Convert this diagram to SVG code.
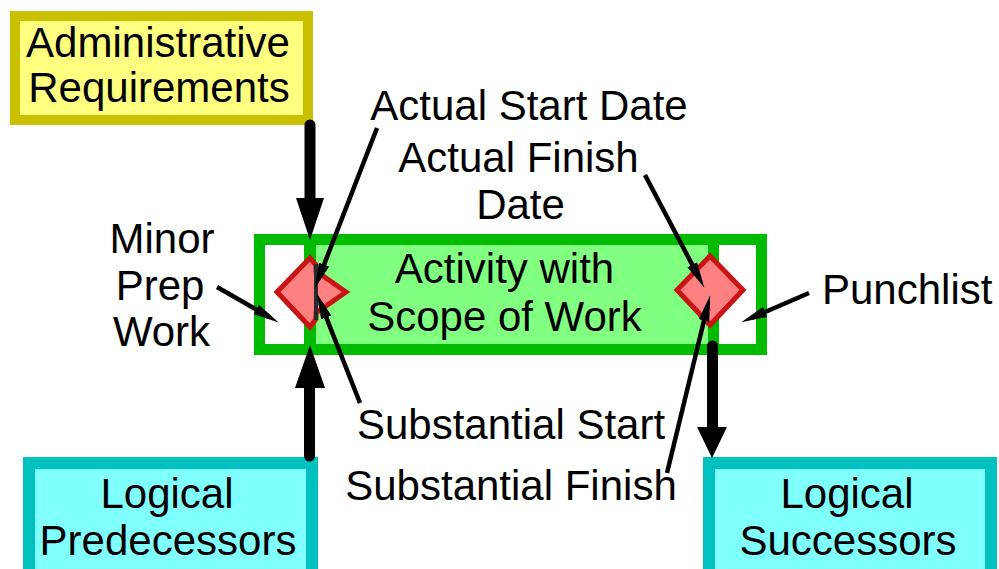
<svg xmlns="http://www.w3.org/2000/svg" width="999" height="569" viewBox="0 0 999 569">
  <style>
    text { font-family: "Liberation Sans", Arial, sans-serif; font-size: 42px; fill: #000; }
    .mid { text-anchor: middle; }
    .admin { fill: #ffff80; stroke: #c8c000; stroke-width: 10; }
    .logic { fill: #80ffff; stroke: #00c0c0; stroke-width: 12; }
    .milestone { fill: #ff8080; stroke: #c81414; stroke-width: 5; stroke-linejoin: miter; }
    .flow { stroke: #000; stroke-width: 11; stroke-linecap: round; fill: none; }
    .head { fill: #000; }
    .pointer { stroke: #000; stroke-width: 4.5; fill: none; marker-end: url(#tip); }
  </style>
  <defs>
    <marker id="tip" markerUnits="userSpaceOnUse" markerWidth="26" markerHeight="12" refX="14" refY="5" orient="auto" viewBox="0 0 24 10">
      <path d="M0,0 L24,5 L0,10 z" fill="#000"/>
    </marker>
  </defs>

  <rect width="999" height="569" fill="#fff"/>

  <!-- Administrative requirements -->
  <g id="admin">
    <rect class="admin" x="15" y="16" width="293" height="104"/>
    <text class="mid" x="158" y="57">Administrative</text>
    <text class="mid" x="159" y="102">Requirements</text>
  </g>

  <!-- Activity bar: prep zone, scope of work, punchlist zone -->
  <g id="activity">
    <rect x="254" y="234" width="513" height="121" fill="#00bb00"/>
    <rect x="265" y="245" width="39" height="99" fill="#fff"/>
    <rect x="316" y="245" width="392" height="99" fill="#80ff80"/>
    <rect x="719" y="245" width="37" height="99" fill="#fff"/>
    <text class="mid" x="504.5" y="283">Activity with</text>
    <text class="mid" x="504.5" y="331">Scope of Work</text>
  </g>

  <!-- Start milestones -->
  <g id="start-milestone">
    <polygon class="milestone" points="277,292 310,258 316,265 316,271 346,292 316,313 316,319 310,327"/>
    <line x1="316" y1="264" x2="316" y2="320" stroke="#2a2a2a" stroke-width="4"/>
  </g>

  <!-- Finish milestones -->
  <g id="finish-milestone">
    <polygon class="milestone" points="677,290 710,256 743,290 710,325"/>
  </g>

  <g id="pred">
    <rect class="logic" x="29" y="463" width="283" height="120"/>
    <text class="mid" x="167" y="508">Logical</text>
    <text class="mid" x="168" y="555">Predecessors</text>
  </g>

  <g id="succ">
    <rect class="logic" x="709" y="463" width="282" height="120"/>
    <text class="mid" x="847" y="508">Logical</text>
    <text class="mid" x="848" y="555">Successors</text>
  </g>

  <!-- Labels -->
  <g id="label-actual-start"><text class="mid" x="529" y="120">Actual Start Date</text></g>
  <g id="label-actual-finish">
    <text class="mid" x="518.5" y="172">Actual Finish</text>
    <text class="mid" x="520.5" y="219">Date</text>
  </g>
  <g id="label-prep">
    <text class="mid" x="162" y="253">Minor</text>
    <text class="mid" x="160" y="300">Prep</text>
    <text class="mid" x="161.5" y="346">Work</text>
  </g>
  <g id="label-punchlist"><text x="822" y="304">Punchlist</text></g>
  <g id="label-substantial-start"><text class="mid" x="511" y="439">Substantial Start</text></g>
  <g id="label-substantial-finish"><text class="mid" x="511" y="500">Substantial Finish</text></g>

  <!-- Connectors -->
  <g id="connectors">
    <!-- logic flow -->
    <line class="flow" x1="310" y1="125" x2="310" y2="200"/>
    <polygon class="head" points="296,198 324,198 310,240"/>
    <line class="flow" x1="309.5" y1="456" x2="309.5" y2="387"/>
    <polygon class="head" points="295,388 325,388 310,345"/>
    <line class="flow" x1="712.5" y1="346" x2="712.5" y2="428"/>
    <polygon class="head" points="697,427 727,427 712,458"/>
    <!-- label pointers -->
    <line class="pointer" x1="217" y1="287" x2="269.3" y2="317"/>
    <line class="pointer" x1="809" y1="293" x2="751.2" y2="318"/>
    <line class="pointer" x1="377" y1="128" x2="318.6" y2="278.7"/>
    <line class="pointer" x1="360" y1="403" x2="320.7" y2="303.3"/>
    <line class="pointer" x1="645" y1="175" x2="699.3" y2="278.1"/>
    <line class="pointer" x1="667" y1="473" x2="707.6" y2="305.7"/>
  </g>
</svg>
